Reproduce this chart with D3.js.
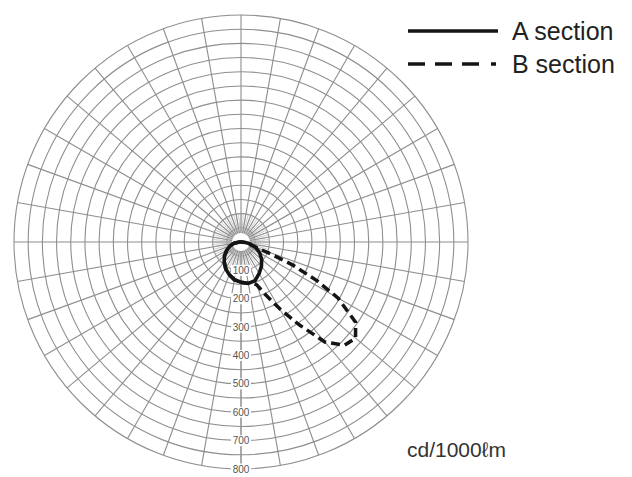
<!DOCTYPE html>
<html>
<head>
<meta charset="utf-8">
<script src="https://cdn.jsdelivr.net/npm/d3@7/dist/d3.min.js"></script>
<style>
  html, body { margin: 0; padding: 0; background: #fff; }
  svg { display: block; }
</style>
</head>
<body>
<svg id="chart" width="632" height="477"></svg>
<script>
// Luminous intensity distribution (cd/1000 lm), angle 0 = straight down, + = towards the right
const ringValues = d3.range(50, 801, 50);
const axisLabels = [100, 200, 300, 400, 500, 600, 700, 800];

const aAngles = [-90, -80, -70, -60, -50, -40, -30, -20, -10, 0, 10, 20, 30, 40, 50, 60, 70, 80, 90, 180];
const aValues = [5, 25, 42, 58, 76, 92, 108, 122, 135, 142, 148, 145, 128, 112, 95, 76, 55, 30, 8, 0];

const bAngles = [-90, -80, -70, -60, -50, -40, -30, -20, -10, 0, 10, 15, 20, 25, 30, 35, 40, 45, 50, 55, 60, 63, 66, 68, 70, 75, 80, 90, 180];
const bValues = [5, 25, 42, 58, 76, 92, 108, 122, 135, 142, 148, 150, 160, 205, 270, 355, 460, 515, 527, 493, 395, 300, 200, 120, 60, 28, 12, 2, 0];

const legendNames = ["A section", "B section"];
const unitLabel = "cd/1000ℓm";

const svg = d3.select("#chart");
const cx = 241, cy = 242, R = 227;

const r = d3.scaleLinear().domain([0, 800]).range([0, R]);
const toRad = d => (180 - d) * Math.PI / 180;   // 0 deg points down

const g = svg.append("g").attr("transform", `translate(${cx},${cy})`);
const gridColor = "#8e8e8e";

// concentric rings every 50 cd
g.append("g").selectAll("circle")
  .data(ringValues)
  .join("circle")
  .attr("r", d => r(d))
  .attr("fill", "none")
  .attr("stroke", gridColor)
  .attr("stroke-width", 1.1);

// fine spokes around the centre
g.append("g").selectAll("line")
  .data(d3.range(0, 360, 5))
  .join("line")
  .attr("x1", d => 9 * Math.sin(d * Math.PI / 180))
  .attr("y1", d => 9 * Math.cos(d * Math.PI / 180))
  .attr("x2", d => r(100) * Math.sin(d * Math.PI / 180))
  .attr("y2", d => r(100) * Math.cos(d * Math.PI / 180))
  .attr("stroke", "#bdbdbd")
  .attr("stroke-width", 0.8);

// main spokes every 10 degrees
g.append("g").selectAll("line")
  .data(d3.range(0, 360, 10))
  .join("line")
  .attr("x1", d => 9 * Math.sin(d * Math.PI / 180))
  .attr("y1", d => 9 * Math.cos(d * Math.PI / 180))
  .attr("x2", d => R * Math.sin(d * Math.PI / 180))
  .attr("y2", d => R * Math.cos(d * Math.PI / 180))
  .attr("stroke", gridColor)
  .attr("stroke-width", d => d === 0 ? 1.5 : 1.1);

// white hub
g.append("circle").attr("r", 8).attr("fill", "#fff");

// intensity scale along the downward axis
const lab = g.append("g").selectAll("g")
  .data(axisLabels)
  .join("g")
  .attr("transform", d => `translate(0,${r(d)})`);
lab.append("rect")
  .attr("x", -10).attr("y", -5.5).attr("width", 20).attr("height", 11)
  .attr("fill", "#fff");
lab.append("text")
  .attr("text-anchor", "middle")
  .attr("dy", "0.35em")
  .attr("font-family", "Liberation Sans, Arial, sans-serif")
  .attr("font-size", 10)
  .attr("fill", "#555")
  .text(d => d);

const radial = d3.lineRadial()
  .angle(d => toRad(d[0]))
  .radius(d => r(d[1]))
  .curve(d3.curveLinearClosed);

const bData = bAngles.map((a, i) => [a, bValues[i]]);
const aData = aAngles.map((a, i) => [a, aValues[i]]);

g.append("path")
  .attr("d", radial(bData))
  .attr("fill", "none")
  .attr("stroke", "#151515")
  .attr("stroke-width", 3.5)
  .attr("stroke-dasharray", "9,5")
  .attr("stroke-linejoin", "round");

g.append("path")
  .attr("d", radial(aData))
  .attr("fill", "none")
  .attr("stroke", "#151515")
  .attr("stroke-width", 3.6)
  .attr("stroke-linejoin", "round");

// legend
const legend = svg.append("g");
const legendY = [31, 64];
legend.append("line")
  .attr("x1", 408).attr("x2", 498).attr("y1", legendY[0]).attr("y2", legendY[0])
  .attr("stroke", "#151515").attr("stroke-width", 3.6);
legend.append("line")
  .attr("x1", 408).attr("x2", 498).attr("y1", legendY[1]).attr("y2", legendY[1])
  .attr("stroke", "#151515").attr("stroke-width", 3.6)
  .attr("stroke-dasharray", "17,10,17,10,17,12,5,100");
legend.selectAll("text")
  .data(legendNames)
  .join("text")
  .attr("x", 512)
  .attr("y", (d, i) => legendY[i] + 9)
  .attr("font-family", "Liberation Sans, Arial, sans-serif")
  .attr("font-size", 25)
  .attr("fill", "#222")
  .text(d => d);

svg.append("text")
  .attr("x", 407).attr("y", 457)
  .attr("font-family", "Liberation Sans, Arial, sans-serif")
  .attr("font-size", 21)
  .attr("fill", "#333")
  .text(unitLabel);
</script>
</body>
</html>
